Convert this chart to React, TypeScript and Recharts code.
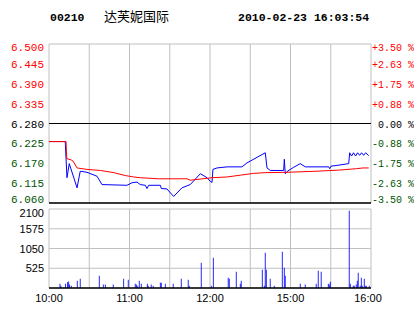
import { ComposedChart, Line, Bar, XAxis, YAxis, CartesianGrid, ReferenceLine } from 'recharts';

// minutes since 10:00 (morning 10:00-12:30, afternoon 14:30-16:00 squeezed together)
const timeTicks = [0, 30, 60, 90, 120, 150, 180, 210, 240];
const timeLabels: Record<number, string> = { 0: '10:00', 60: '11:00', 120: '12:00', 180: '15:00', 240: '16:00' };

const prevClose = 6.28;
const priceTicks = [6.06, 6.115, 6.17, 6.225, 6.28, 6.335, 6.39, 6.445, 6.5];
const pctTicks = [-3.5, -2.625, -1.75, -0.875, 0, 0.875, 1.75, 2.625, 3.5];
const volTicks = [0, 525, 1050, 1575, 2100];

// last price
const priceMin = [0, 12.1, 13.4, 15.1, 20.9, 23.3, 28.3, 35.8, 39.5, 58.1, 61.9, 65.6, 68.0, 71.8, 73.0, 74.3, 83.0, 83.7, 87.9, 92.9, 99.1, 105.3, 112.8, 117.8, 120.2, 121.5, 122.2, 125.2, 132.7, 143.8, 147.6, 161.2, 162.5, 164.9, 174.9, 175.4, 176.1, 177.4, 182.4, 187.3, 191.0, 208.5, 209.2, 210.2, 214.6, 223.4, 224.1, 225.5, 227, 228.5, 230, 231.5, 233, 234.5, 236, 238.3];
const priceVal = [6.23, 6.23, 6.13, 6.169, 6.102, 6.148, 6.145, 6.134, 6.111, 6.109, 6.116, 6.118, 6.111, 6.109, 6.1, 6.109, 6.109, 6.1, 6.099, 6.078, 6.102, 6.111, 6.141, 6.13, 6.12, 6.117, 6.153, 6.157, 6.16, 6.16, 6.171, 6.199, 6.157, 6.15, 6.15, 6.181, 6.141, 6.147, 6.159, 6.169, 6.16, 6.16, 6.155, 6.162, 6.164, 6.169, 6.199, 6.19, 6.199, 6.19, 6.199, 6.192, 6.199, 6.192, 6.199, 6.191];

// average price
const avgMin = [0, 12.7, 13.2, 16.6, 17.9, 20.9, 28.3, 38.3, 48.4, 56.8, 63.2, 68.0, 81.7, 102.9, 105.3, 121.5, 132.7, 142.6, 152.6, 161.2, 177.4, 199.7, 215.8, 229.4, 234.0, 238.3];
const avgVal = [6.23, 6.23, 6.183, 6.179, 6.176, 6.157, 6.153, 6.15, 6.144, 6.136, 6.132, 6.13, 6.127, 6.127, 6.123, 6.13, 6.132, 6.137, 6.142, 6.144, 6.145, 6.148, 6.151, 6.155, 6.157, 6.157];

// volume
const volMin = [8.2, 8.9, 12.4, 13.9, 14.7, 15.4, 16.6, 21.1, 23.3, 37.5, 40.5, 42.0, 47.9, 55.7, 59.1, 64.3, 65.1, 65.8, 67.3, 68.8, 73.3, 74.0, 76.2, 77.7, 83.0, 83.7, 86.7, 92.6, 98.6, 103.8, 104.6, 113.5, 121.0, 122.5, 133.6, 134.4, 139.6, 142.6, 143.3, 159.0, 160.5, 161.2, 162.0, 164.9, 167.9, 173.9, 175.4, 176.1, 187.3, 191.0, 199.2, 200.7, 202.9, 208.2, 208.9, 209.7, 223.8, 224.6, 226.8, 227.5, 229.0, 229.8, 230.5, 232.0, 232.8, 233.5, 235.0, 235.7, 236.5, 238.7];
const volVal = [115, 60, 115, 150, 175, 90, 60, 195, 245, 325, 90, 90, 90, 245, 220, 115, 90, 60, 195, 115, 115, 60, 90, 60, 140, 140, 115, 115, 245, 220, 60, 670, 60, 805, 275, 245, 435, 115, 195, 485, 60, 940, 485, 245, 60, 965, 540, 325, 115, 90, 115, 460, 435, 115, 90, 165, 2055, 115, 60, 60, 90, 195, 405, 60, 275, 60, 245, 60, 60, 60];

const priceData = priceMin.map((m, i) => ({ m, p: priceVal[i], pct: (priceVal[i] / prevClose - 1) * 100 }));
const avgData = avgMin.map((m, i) => ({ m, avg: avgVal[i] }));
const volData = volMin.map((m, i) => ({ m, v: volVal[i] }));

const RED = '#ff0000';
const GREEN = '#005500';
const BLUE = '#0000ff';
const GRID = '#c0c0c0';
const MONO = "'Liberation Mono', 'DejaVu Sans Mono', monospace";
const SANS = "'Liberation Sans', Arial, sans-serif";

const PriceTick = (props: any) => {
  const v = props.payload.value;
  const fill = v > prevClose + 1e-6 ? RED : v < prevClose - 1e-6 ? GREEN : '#000';
  let dy = 4;
  if (v >= 6.5) dy = 7;
  if (v <= 6.06) dy = 0;
  return (
    <text x={props.x} y={props.y} dy={dy} textAnchor="end" fill={fill} fontFamily={MONO} fontSize={11}>
      {v.toFixed(3)}
    </text>
  );
};

const PctTick = (props: any) => {
  const v = props.payload.value;
  const fill = v > 0 ? RED : v < 0 ? GREEN : '#000';
  const label = v > 0 ? '+' + v.toFixed(2) : v < 0 ? '-' + Math.abs(v).toFixed(2) : '0.00';
  let dy = 4;
  if (v >= 3.5) dy = 7;
  if (v <= -3.5) dy = 0;
  return (
    <text x={props.x} y={props.y} dy={dy} dx={v === 0 ? 6 : 0} textAnchor="start" fill={fill} fontFamily={MONO} fontSize={10}>
      {label + ' %'}
    </text>
  );
};

const VolTick = (props: any) => {
  const v = props.payload.value;
  if (v === 0) return <g />;
  return (
    <text x={props.x} y={props.y} dy={v >= 2100 ? 8 : 4} textAnchor="end" fill="#000" fontFamily={SANS} fontSize={11}>
      {v}
    </text>
  );
};

const TimeTick = (props: any) => {
  const v = props.payload.value;
  const label = timeLabels[v];
  if (!label) return <g />;
  return (
    <text x={props.x} y={props.y} dy={14} dx={v === 240 ? -3 : 0} textAnchor="middle" fill="#000" fontFamily={SANS} fontSize={11}>
      {label}
    </text>
  );
};

export default function App() {
  return (
    <div style={{ position: 'absolute', left: 0, top: 0, width: 414, height: 314, background: '#fff' }}>
      <svg width={414} height={30} style={{ position: 'absolute', left: 0, top: 0 }}>
        <text x={50} y={21} fontFamily={MONO} fontWeight="bold" fontSize={11.5} fill="#000">00210</text>
        <text x={104} y={20.5} fontFamily="'Noto Sans CJK SC', sans-serif" fontSize={13} fill="#000">达芙妮国际</text>
        <text x={238} y={21} fontFamily={MONO} fontWeight="bold" fontSize={11.5} fill="#000">2010-02-23 16:03:54</text>
      </svg>

      <div style={{ position: 'absolute', left: 0, top: 0 }}>
        <ComposedChart width={414} height={210} margin={{ top: 44, right: 0, bottom: 7, left: 0 }}>
          <CartesianGrid stroke={GRID} strokeWidth={1} />
          <XAxis dataKey="m" type="number" domain={[0, 240]} ticks={timeTicks} hide />
          <YAxis yAxisId="price" orientation="left" width={49} domain={[6.06, 6.5]} ticks={priceTicks} axisLine={false} tickLine={false} tickSize={0} tickMargin={5} tick={PriceTick} interval={0} />
          <YAxis yAxisId="pct" orientation="right" width={43} domain={[-3.5, 3.5]} ticks={pctTicks} axisLine={false} tickLine={false} tickSize={0} tickMargin={1} tick={PctTick} interval={0} allowDataOverflow />
          <ReferenceLine yAxisId="price" y={prevClose} stroke="#000" strokeWidth={1} />
          <ReferenceLine yAxisId="price" y={6.06} stroke="#000" strokeWidth={1.5} />
          <Line yAxisId="pct" data={priceData} dataKey="pct" type="linear" stroke="none" strokeWidth={0} dot={false} activeDot={false} isAnimationActive={false} />
          <Line yAxisId="price" data={priceData} dataKey="p" type="linear" stroke={BLUE} strokeWidth={1} dot={false} isAnimationActive={false} />
          <Line yAxisId="price" data={avgData} dataKey="avg" type="linear" stroke={RED} strokeWidth={1} dot={false} isAnimationActive={false} />
        </ComposedChart>
      </div>

      <div style={{ position: 'absolute', left: 0, top: 200 }}>
        <ComposedChart width={414} height={114} data={volData} margin={{ top: 9, right: 43, bottom: 0, left: 0 }}>
          <CartesianGrid stroke={GRID} strokeWidth={1} />
          <XAxis dataKey="m" type="number" domain={[0, 240]} ticks={timeTicks} height={26} axisLine={false} tickLine={false} tickSize={0} tickMargin={0} tick={TimeTick} interval={0} />
          <YAxis width={49} domain={[0, 2100]} ticks={volTicks} axisLine={false} tickLine={false} tickSize={0} tickMargin={5} tick={VolTick} interval={0} />
          <ReferenceLine y={0} stroke="#000" strokeWidth={1.5} />
          <Bar dataKey="v" fill={BLUE} barSize={1} isAnimationActive={false} />
        </ComposedChart>
      </div>
    </div>
  );
}
